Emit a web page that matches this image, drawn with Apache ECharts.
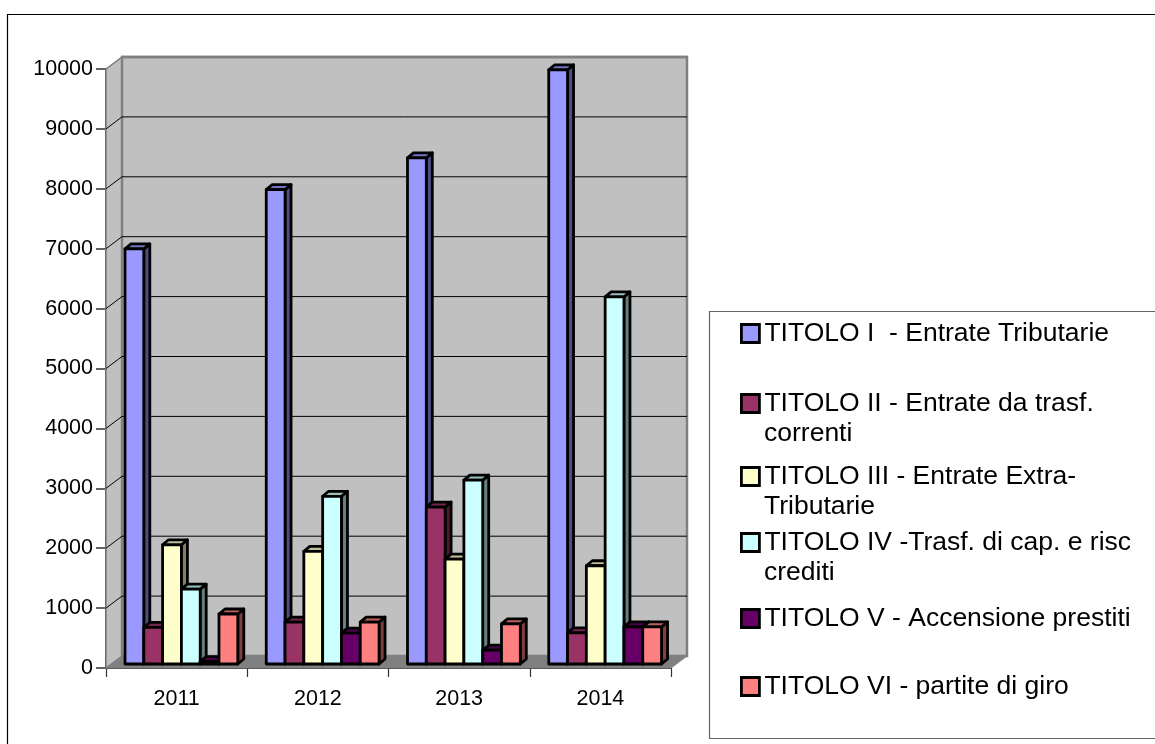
<!DOCTYPE html>
<html>
<head>
<meta charset="utf-8">
<title>Titoli entrate</title>
<script src="https://cdn.jsdelivr.net/npm/echarts@6/dist/echarts.min.js"></script>
<style>
html,body{margin:0;padding:0;background:#fff;}
#chart{width:1155px;height:744px;}
</style>
</head>
<body>
<div id="chart"></div>
<script>
var years = ['2011','2012','2013','2014'];
var yTicks = [1000,2000,3000,4000,5000,6000,7000,8000,9000,10000];

var titolo1 = [6930,7920,8450,9920];
var titolo2 = [610,700,2620,520];
var titolo3 = [1990,1880,1750,1640];
var titolo4 = [1250,2800,3070,6130];
var titolo5 = [40,515,230,620];
var titolo6 = [835,700,670,620];

var names = [
	'TITOLO I  - Entrate Tributarie',
	'TITOLO II - Entrate da trasf. correnti',
	'TITOLO III - Entrate Extra-Tributarie',
	'TITOLO IV -Trasf. di cap. e risc crediti',
	'TITOLO V - Accensione prestiti',
	'TITOLO VI - partite di giro'
];
var firstLines = [
	'TITOLO I  - Entrate Tributarie',
	'TITOLO II - Entrate da trasf.',
	'TITOLO III - Entrate Extra-',
	'TITOLO IV -Trasf. di cap. e risc',
	'TITOLO V - Accensione prestiti',
	'TITOLO VI - partite di giro'
];
var secondLines = ['', 'correnti', 'Tributarie', 'crediti', '', ''];
var colors = ['#9999FF','#993366','#FFFFCC','#CCFFFF','#660066','#FF8080'];
var sides = ['#4D4D80','#4D1A33','#808066','#668080','#330033','#804040'];
var tops = ['#7373BF','#73264D','#BFBF99','#99BFBF','#4D004D','#BF6060'];
var allValues = [titolo1,titolo2,titolo3,titolo4,titolo5,titolo6];

var DEPTH_X = 16, DEPTH_Y = 12;      // offset from the front axis to the back wall
var BAR_W = 18.8, BAR_GAP_LEFT = 19; // bars inside a category
var BAR_DX = 6, BAR_DY = 5;          // depth of a bar
var BAR_LIFT = 4;                    // bars stand a little behind the front edge

var myChart = echarts.init(document.getElementById('chart'));

function renderWall(params, api){
	var g = params.coordSys;
	var left = g.x, right = g.x + g.width, top = g.y, bottom = g.y + g.height;
	return {type:'group', children:[
		{type:'polygon', shape:{points:[[left,top],[left+DEPTH_X,top-DEPTH_Y],[left+DEPTH_X,bottom-DEPTH_Y],[left,bottom]]},
			style:{fill:'#C0C0C0', stroke:'#808080', lineWidth:1.5}},
		{type:'rect', shape:{x:left+DEPTH_X, y:top-DEPTH_Y, width:g.width, height:g.height},
			style:{fill:'#C0C0C0', stroke:'#808080', lineWidth:2.5}},
		{type:'polygon', shape:{points:[[left,bottom],[left+DEPTH_X,bottom-DEPTH_Y],[right+DEPTH_X,bottom-DEPTH_Y],[right,bottom]]},
			style:{fill:'#808080', stroke:'#808080', lineWidth:1}}
	]};
}

function renderGrid(params, api){
	var g = params.coordSys;
	var v = api.value(0);
	var y = api.coord([0, v])[1];
	var c = v >= 10000 ? '#808080' : '#000';
	return {type:'group', children:[
		{type:'line', shape:{x1:g.x, y1:y, x2:g.x+DEPTH_X, y2:y-DEPTH_Y}, style:{stroke:c, lineWidth:1}},
		{type:'line', shape:{x1:g.x+DEPTH_X, y1:y-DEPTH_Y, x2:g.x+g.width+DEPTH_X, y2:y-DEPTH_Y}, style:{stroke:c, lineWidth:v >= 10000 ? 2.5 : 1}}
	]};
}

function makeBarRender(k){
	return function(params, api){
		var cat = api.value(0);
		var top = api.coord([cat, api.value(1)]);
		var base = api.coord([cat, 0]);
		var band = api.size([1,0])[0];
		var x = base[0] - band/2 + BAR_GAP_LEFT + k*BAR_W;
		var y0 = base[1] - BAR_LIFT;
		var y1 = top[1] - BAR_LIFT;
		var line = {stroke:'#000', lineWidth:2.8, lineJoin:'round'};
		return {type:'group', children:[
			{type:'polygon', shape:{points:[[x+BAR_W,y1],[x+BAR_W+BAR_DX,y1-BAR_DY],[x+BAR_W+BAR_DX,y0-BAR_DY],[x+BAR_W,y0]]},
				style:echarts.util.extend({fill:sides[k]}, line)},
			{type:'polygon', shape:{points:[[x,y1],[x+BAR_DX,y1-BAR_DY],[x+BAR_W+BAR_DX,y1-BAR_DY],[x+BAR_W,y1]]},
				style:echarts.util.extend({fill:tops[k]}, line)},
			{type:'rect', shape:{x:x, y:y1, width:BAR_W, height:y0-y1},
				style:echarts.util.extend({fill:colors[k]}, line)}
		]};
	};
}

var legendTops = [332,402,475,541,617,685];
var legends = [], continuation = [], series = [];

series.push({type:'custom', name:'wall', silent:true, renderItem:renderWall, data:[[0]], encode:{x:0}});
series.push({type:'custom', name:'griglia', silent:true, renderItem:renderGrid, data:yTicks.map(function(t){return [t];}), encode:{y:0}});

for(var i = 0;i<names.length;i++){
	var data = [];
	for(var j = 0;j<years.length;j++){
		data.push([j, allValues[i][j]]);
	}
	series.push({
		type:'custom',
		name:names[i],
		renderItem:makeBarRender(i),
		itemStyle:{color:colors[i]},
		encode:{x:0, y:1},
		data:data
	});
	legends.push({
		data:[names[i]],
		left:740,
		top:legendTops[i]-12,
		padding:0,
		icon:'rect',
		itemWidth:18,
		itemHeight:18,
		itemGap:6,
		selectedMode:false,
		itemStyle:{borderColor:'#000', borderWidth:2.8},
		formatter:(function(s){return function(){return s;};})(firstLines[i]),
		textStyle:{fontFamily:'Liberation Sans', fontSize:26.5, color:'#000'}
	});
	if(secondLines[i]){
		continuation.push({
			type:'text', left:764, top:legendTops[i]+18,
			style:{text:secondLines[i], fontFamily:'Liberation Sans', fontSize:26.5, fill:'#000'}
		});
	}
}

var frames = [
	{type:'rect', shape:{x:7.5, y:14.5, width:1160, height:800}, style:{fill:'none', stroke:'#000', lineWidth:1.2}},
	{type:'rect', shape:{x:709.5, y:311.5, width:1160, height:427}, style:{fill:'#fff', stroke:'#666', lineWidth:1.2}}
];

var option = {
	animation:false,
	backgroundColor:'#fff',
	legend:legends,
	grid:{left:106, right:484, top:69, bottom:76},
	xAxis:{
		type:'category',
		data:years,
		axisLine:{show:true, lineStyle:{color:'#333', width:1}},
		axisTick:{show:true, length:9, lineStyle:{color:'#333', width:1.2}},
		axisLabel:{fontFamily:'Liberation Sans', fontSize:21.5, color:'#000', margin:20},
		splitLine:{show:false}
	},
	yAxis:{
		type:'value',
		min:0,
		max:10000,
		interval:1000,
		axisLine:{show:true, lineStyle:{color:'#333', width:2}},
		axisTick:{show:true, length:10, lineStyle:{color:'#333', width:1.5}},
		axisLabel:{fontFamily:'Liberation Sans', fontSize:21.5, color:'#000', margin:13, formatter:function(v){return String(v);}},
		splitLine:{show:false}
	},
	graphic:frames.concat(continuation),
	series:series
};
myChart.setOption(option);
</script>
</body>
</html>
